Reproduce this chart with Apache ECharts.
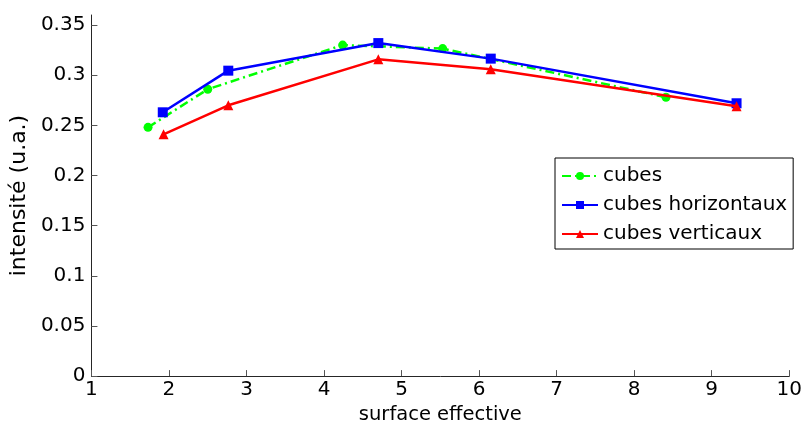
<!DOCTYPE html>
<html>
<head>
<meta charset="utf-8">
<script src="https://cdn.jsdelivr.net/npm/echarts@6/dist/echarts.min.js"></script>
<style>
  html, body { margin: 0; padding: 0; background: #fff; overflow: hidden; }
  #chart { width: 805px; height: 430px; }
</style>
</head>
<body>
<div id="chart"></div>
<script>
// Mesures : intensité en fonction de la surface effective
const cubesX = [1.73, 2.50, 4.24, 5.53, 8.41];
const cubesY = [0.248, 0.286, 0.330, 0.3265, 0.278];

const horizX = [1.92, 2.765, 4.70, 6.15, 9.32];
const horizY = [0.263, 0.3045, 0.332, 0.3165, 0.272];

const vertX = [1.93, 2.765, 4.70, 6.15, 9.32];
const vertY = [0.241, 0.270, 0.3158, 0.306, 0.269];

const xTicks = [1, 2, 3, 4, 5, 6, 7, 8, 9, 10];
const yTicks = [0, 0.05, 0.1, 0.15, 0.2, 0.25, 0.3, 0.35];

const seriesNames = ['cubes', 'cubes horizontaux', 'cubes verticaux'];

const pairs = (xs, ys) => xs.map((x, i) => [x, ys[i]]);

const FONT = '"DejaVu Sans", sans-serif';
const AXIS_COLOR = '#262626';

const chart = echarts.init(document.getElementById('chart'), null, { renderer: 'canvas', width: 805, height: 430 });

chart.setOption({
  animation: false,
  backgroundColor: '#ffffff',
  grid: { left: 90, right: 13, top: 15, bottom: 50, containLabel: false },
  xAxis: {
    type: 'value',
    min: 1, max: 10, interval: 1,
    name: 'surface effective',
    nameLocation: 'middle',
    nameGap: 26,
    nameTextStyle: { fontFamily: FONT, fontSize: 19.5, color: '#000' },
    axisLine: { show: true, onZero: false, lineStyle: { color: AXIS_COLOR, width: 1 } },
    axisTick: { show: true, inside: true, length: 6, lineStyle: { color: '#555' }, customValues: xTicks },
    axisLabel: { fontFamily: FONT, fontSize: 20, color: '#000', margin: 4, customValues: xTicks },
    splitLine: { show: false }
  },
  yAxis: {
    type: 'value',
    min: 0, max: 0.36,
    name: 'intensité (u.a.)',
    nameLocation: 'middle',
    nameGap: 58,
    nameTextStyle: { fontFamily: FONT, fontSize: 22, color: '#000' },
    axisLine: { show: true, onZero: false, lineStyle: { color: AXIS_COLOR, width: 1 } },
    axisTick: { show: true, inside: true, length: 6, lineStyle: { color: '#555' }, customValues: yTicks },
    axisLabel: { fontFamily: FONT, fontSize: 20, color: '#000', margin: 6, customValues: yTicks,
      formatter: v => String(Math.round(v * 100) / 100) },
    splitLine: { show: false }
  },
  legend: {
    data: seriesNames,
    orient: 'vertical',
    left: 555, top: 158,
    backgroundColor: '#fff',
    borderColor: '#000',
    borderWidth: 1,
    padding: [6, 6, 3, 6],
    itemWidth: 36,
    itemHeight: 10,
    itemGap: 5,
    textStyle: { fontFamily: FONT, fontSize: 20, color: '#000', lineHeight: 24 }
  },
  series: [
    {
      name: seriesNames[0],
      type: 'line',
      data: pairs(cubesX, cubesY),
      symbol: 'circle', symbolSize: 9,
      itemStyle: { color: '#00ff00' },
      lineStyle: { color: '#00ff00', width: 2.5, type: [9, 4, 2, 4] },
      z: 2
    },
    {
      name: seriesNames[1],
      type: 'line',
      data: pairs(horizX, horizY),
      symbol: 'rect', symbolSize: 10,
      itemStyle: { color: '#0000ff' },
      lineStyle: { color: '#0000ff', width: 2.5 },
      z: 3
    },
    {
      name: seriesNames[2],
      type: 'line',
      data: pairs(vertX, vertY),
      symbol: 'triangle', symbolSize: 10,
      itemStyle: { color: '#ff0000' },
      lineStyle: { color: '#ff0000', width: 2.5 },
      z: 4
    }
  ]
});
</script>
</body>
</html>
